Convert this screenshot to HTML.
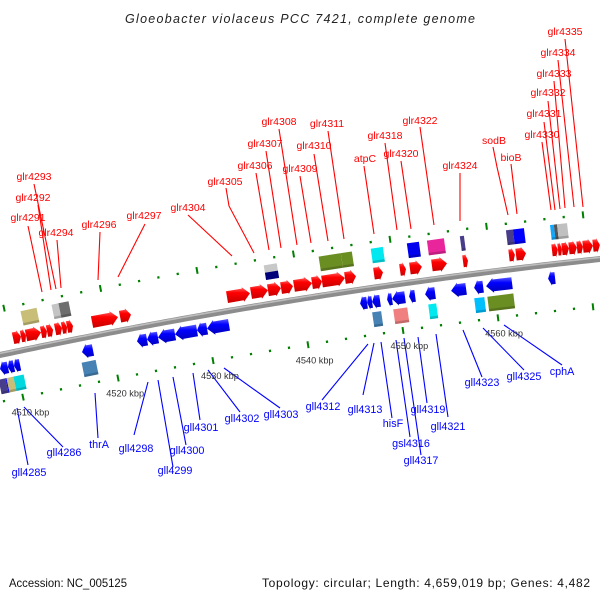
<!DOCTYPE html>
<html><head><meta charset="utf-8"><title>Gloeobacter violaceus genome map</title>
<style>
html,body{margin:0;padding:0;background:#fff;}
svg{display:block;}
text{font-family:"Liberation Sans",sans-serif;}
</style></head>
<body>
<svg id="map" width="600" height="600" viewBox="0 0 600 600" xmlns="http://www.w3.org/2000/svg">
<defs>
<linearGradient id="gRed" x1="0" y1="0" x2="0" y2="1"><stop offset="0" stop-color="#ff6a6a"/><stop offset="0.35" stop-color="#ff0000"/><stop offset="1" stop-color="#c80000"/></linearGradient>
<linearGradient id="gBlue" x1="0" y1="0" x2="0" y2="1"><stop offset="0" stop-color="#5a5aff"/><stop offset="0.35" stop-color="#0000ff"/><stop offset="1" stop-color="#0000b8"/></linearGradient>
</defs>
<text x="125" y="23" textLength="350" lengthAdjust="spacing" font-size="12.5" font-style="italic" fill="#222">Gloeobacter violaceus PCC 7421, complete genome</text>
<text x="9" y="587" textLength="118" lengthAdjust="spacingAndGlyphs" font-size="12" fill="#111">Accession: NC_005125</text>
<text x="262" y="587" textLength="328" lengthAdjust="spacing" font-size="12" fill="#111">Topology: circular; Length: 4,659,019 bp; Genes: 4,482</text>
<g id="lines"></g>
<g id="backbone"></g>
<g id="ticks"></g>
<g id="genes"></g>
<g id="labels"></g>
</svg>
<script>
// ---- data (kbp offsets from 4510 kbp) ----
const topFwd = [[0.26,1.09],[1.09,1.61],[1.61,3.18],[3.18,3.8],[3.8,4.43],[4.64,5.36],[5.36,5.89],[5.89,6.51],[8.49,11.2],[11.41,12.55],[22.55,24.95],[25.05,26.82],[26.82,28.18],[28.18,29.43],[29.53,31.41],[31.41,32.45],[32.45,34.84],[34.84,35.99],[37.86,38.8],[40.57,41.2],[41.61,42.86],[43.9,45.47],[47.14,47.66],[51.93,52.55],[52.66,53.7],[56.41,57.03],[57.03,57.45],[57.45,58.18],[58.18,59.01],[59.01,59.64],[59.64,60.68],[60.68,61.4]];
const botRev = [[-1.7,-0.87],[-0.87,-0.24],[-0.24,0.39],[6.88,8.03],[12.64,13.69],[13.69,14.84],[14.84,16.62],[16.62,18.92],[18.92,19.97],[19.97,22.27],[35.99,36.72],[36.72,37.25],[37.25,38.08],[38.82,39.34],[39.34,40.7],[41.12,41.75],[42.8,43.84],[45.52,47.09],[47.93,48.87],[49.18,51.9],[55.67,56.4]];
const topBoxes = [[1.57,3.23],[4.79,5.51],[5.51,6.55],[26.8,28.15],[32.5,34.8],[34.8,35.94],[37.9,39.16],[41.65,42.9],[43.73,45.5],[47.15,47.57],[51.93,52.66],[52.66,53.8],[56.5,56.9],[56.9,57.23],[57.23,58.27]];
const topBoxColors = ["#c8be78","#c4c4c4","#6e6e6e","#c8c8c8","#6b8e23","#6b8e23","#00e8f0","#0000ee","#e8259b","#483d8b","#483d8b","#0000ff","#10a8ff","#555555","#c0c0c0"];
const botBoxes = [[-2.09,-1.35],[-1.35,-1.25],[-1.25,-0.52],[-0.52,0.54],[6.63,8.1],[37.09,38.03],[39.3,40.77],[42.97,43.81],[47.8,48.85],[49.17,51.9]];
const botBoxColors = ["#483d8b","#0000ff","#c8be78","#00d8e0","#4682b4","#4682b4","#f08080","#00e8f0","#00bfff","#6b8e23"];
const tickStart = -2, tickEnd = 62, tickStep = 2, majorStep = 10;
const kbpLabels = ["4510 kbp","4520 kbp","4530 kbp","4540 kbp","4550 kbp","4560 kbp"];
const kbpOffsets = [0,10,20,30,40,50];
const topLabels = ["glr4291","glr4292","glr4293","glr4294","glr4296","glr4297","glr4304","glr4305","glr4306","glr4307","glr4308","glr4309","glr4310","glr4311","atpC","glr4318","glr4320","glr4322","glr4324","sodB","bioB","glr4330","glr4331","glr4332","glr4333","glr4334","glr4335"];
const topLabelXY = [[28,221],[33,201],[34,180],[56,236],[99,228],[144,219],[188,211],[225,185],[255,169],[265,147],[279,125],[300,172],[314,149],[327,127],[365,162],[385,139],[401,157],[420,124],[460,169],[494,144],[511,161],[542,138],[544,117],[548,96],[554,77],[558,56],[565,35]];
const topLeaders = [[[28,226],[42,292]],[[38,205],[51,290]],[[34,184],[56,289]],[[57,240],[61,288]],[[100,232],[98,280]],[[145,224],[118,277]],[[188,215],[232,256]],[[226,188],[229,206],[254,253]],[[256,173],[269,250]],[[266,151],[281,248]],[[279,129],[297,245]],[[300,176],[311,243]],[[314,154],[328,241]],[[328,131],[344,239]],[[364,166],[374,234]],[[385,143],[397,230]],[[401,161],[411,229]],[[420,127],[434,225]],[[460,173],[460,221]],[[493,147],[497,167],[508,215]],[[511,164],[517,214]],[[542,142],[551,210]],[[544,122],[555,210]],[[548,101],[560,209]],[[554,81],[565,208]],[[558,60],[574,207]],[[565,39],[583,207]]];
const botLabels = ["gll4285","gll4286","thrA","gll4298","gll4299","gll4300","gll4301","gll4302","gll4303","gll4312","gll4313","hisF","gsl4316","gll4317","gll4319","gll4321","gll4323","gll4325","cphA"];
const botLabelXY = [[29,476],[64,456],[99,448],[136,452],[175,474],[187,454],[201,431],[242,422],[281,418],[323,410],[365,413],[393,427],[411,447],[421,464],[428,413],[448,430],[482,386],[524,380],[562,375]];
const botLeaders = [[[28,465],[17,408]],[[63,447],[24,407]],[[98,438],[95,393]],[[134,435],[148,382]],[[173,467],[158,380]],[[186,445],[173,377]],[[200,420],[193,373]],[[240,412],[208,370]],[[280,408],[224,368]],[[322,400],[368,344]],[[363,395],[374,343]],[[392,418],[381,342]],[[410,437],[396,340]],[[421,455],[404,338]],[[427,403],[418,337]],[[448,417],[436,334]],[[482,377],[463,330]],[[524,370],[483,328]],[[562,365],[504,325]]];

// ---- geometry ----
const NS = "http://www.w3.org/2000/svg";
function yl(x){ return 355 - 0.2133*x + 0.0000889*x*x; }
function P(d, v){
  const xb = 23 + 9.5*d, xt = 4 + 9.65*d;
  const t = (v + 46)/93;
  const x = xt + (xb - xt)*t;
  return [x, yl(x) + v];
}
function mk(tag, attrs, parent){
  const el = document.createElementNS(NS, tag);
  for (const k in attrs) el.setAttribute(k, attrs[k]);
  parent.appendChild(el);
  return el;
}
function pts(arr){ return arr.map(p => p[0].toFixed(1)+","+p[1].toFixed(1)).join(" "); }

// backbone
const bb = document.getElementById("backbone");
let dpath = "";
for (let x = -5; x <= 605; x += 5) dpath += (x === -5 ? "M" : "L") + x + "," + yl(x).toFixed(2);
const bbMain = mk("path", {d: dpath, fill: "none", stroke: "#8c8c8c", "stroke-width": 6}, bb);


const bbHi = mk("path", {d: dpath, fill: "none", stroke: "#bdbdbd", "stroke-width": 1.6, transform: "translate(0,-1.6)"}, bb);



// ticks
const tg = document.getElementById("ticks");
for (let d = tickStart; d <= tickEnd; d += tickStep) {
  const major = (d % majorStep === 0);
  [-46, 47].forEach(v => {
    const len = major ? 3.5 : 1.2;
    const a = P(d, v - len), b = P(d, v + len);
    const t = mk("line", {x1: a[0], y1: a[1], x2: b[0], y2: b[1], stroke: "#008000", "stroke-width": major ? 2 : 2.2}, tg);
    
    
  });
}
kbpLabels.forEach((lab, i) => {
  const p = P(kbpOffsets[i], 64);
  const t = mk("text", {x: p[0] + 4, y: p[1] + 2, "text-anchor": "middle", "font-size": 9.2, fill: "#333"}, tg);
  t.textContent = lab;
  
  
});

// genes
const gg = document.getElementById("genes");
function arrow(s, e, v, h, fwd, fill, name){
  const len = e - s;
  const head = Math.min(len*0.45, 0.75);
  let poly;
  if (fwd) {
    const b = e - head;
    poly = [P(s, v-h/2*0.8), P(b, v-h/2*0.8), P(b, v-h/2), P(e, v), P(b, v+h/2), P(b, v+h/2*0.8), P(s, v+h/2*0.8)];
  } else {
    const b = s + head;
    poly = [P(e, v-h/2*0.8), P(b, v-h/2*0.8), P(b, v-h/2), P(s, v), P(b, v+h/2), P(b, v+h/2*0.8), P(e, v+h/2*0.8)];
  }
  const el = mk("polygon", {points: pts(poly), fill: fill, stroke: "none"}, gg);
  
  
}
function box(s, e, v, h, fill, name){
  const poly = [P(s, v-h/2), P(e, v-h/2), P(e, v+h/2), P(s, v+h/2)];
  const el = mk("polygon", {points: pts(poly), fill: fill}, gg);
  
  
  const sh = [P(s, v+h/2-2.5), P(e, v+h/2-2.5), P(e, v+h/2), P(s, v+h/2)];
  const s2 = mk("polygon", {points: pts(sh), fill: "#000", opacity: 0.18}, gg);
  
  
}
topFwd.forEach(g => arrow(g[0], g[1], -14, 15, true, "url(#gRed)", "forward-gene"));
botRev.forEach(g => arrow(g[0], g[1], 14, 15, false, "url(#gBlue)", "reverse-gene"));
topBoxes.forEach((g, i) => box(g[0], g[1], -32, 15, topBoxColors[i], "forward-feature-box"));
botBoxes.forEach((g, i) => box(g[0], g[1], 32, 15, botBoxColors[i], "reverse-feature-box"));
(function(){
  const poly = [P(26.8, -32), P(28.15, -32), P(28.15, -24.5), P(26.8, -24.5)];
  const el = mk("polygon", {points: pts(poly), fill: "#00007a"}, gg);
  
  
})();

// labels + leaders
const lg = document.getElementById("labels"), lnG = document.getElementById("lines");
function leader(seg, color){
  const pl = mk("polyline", {points: pts(seg), fill: "none", stroke: color, "stroke-width": 1.1}, lnG);
  
  
}
topLabels.forEach((lab, i) => {
  const t = mk("text", {x: topLabelXY[i][0], y: topLabelXY[i][1], "text-anchor": "middle", "font-size": 10.5, fill: "#ff0000"}, lg);
  t.textContent = lab;
  
  
  leader(topLeaders[i], "#ff0000");
});
botLabels.forEach((lab, i) => {
  const t = mk("text", {x: botLabelXY[i][0], y: botLabelXY[i][1], "text-anchor": "middle", "font-size": 10.8, fill: "#0000ff"}, lg);
  t.textContent = lab;
  
  
  leader(botLeaders[i], "#0000ff");
});
</script>
</body></html>
